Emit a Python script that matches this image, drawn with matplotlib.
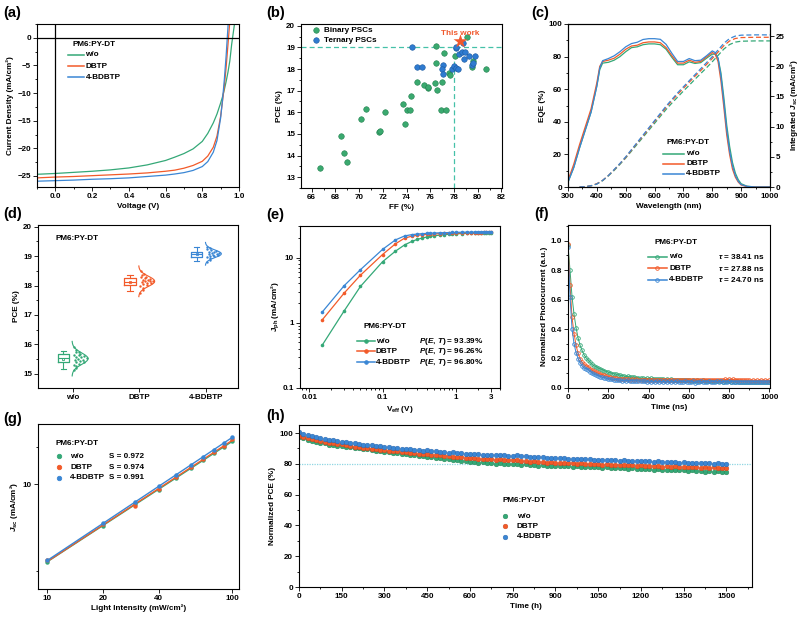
import numpy as np
import matplotlib
matplotlib.use("Agg")
import matplotlib.pyplot as plt
from matplotlib.lines import Line2D
from matplotlib.ticker import MultipleLocator, FixedLocator, FixedFormatter, NullLocator, NullFormatter

plt.rcParams["font.family"] = ["Liberation Sans", "DejaVu Sans"]
plt.rcParams["font.weight"] = "bold"
plt.rcParams["axes.labelweight"] = "bold"
plt.rcParams["mathtext.fontset"] = "custom"
plt.rcParams["mathtext.rm"] = "Liberation Sans:bold"
plt.rcParams["mathtext.it"] = "Liberation Sans:italic:bold"
plt.rcParams["mathtext.bf"] = "Liberation Sans:bold"
plt.rcParams["axes.linewidth"] = 0.8

GREEN = "#34a877"
ORANGE = "#f25a29"
BLUE = "#3a86d4"
COLORS = [GREEN, ORANGE, BLUE]
NAMES = ["w/o", "DBTP", "4-BDBTP"]

# (a) J-V
V_jv = [-0.1, 0.0, 0.1, 0.2, 0.3, 0.4, 0.5, 0.6, 0.65, 0.7, 0.75, 0.8, 0.83, 0.86,
        0.88, 0.9, 0.91, 0.92, 0.93, 0.94, 0.95, 0.96, 0.97, 0.98]
J_wo = [-24.7, -24.55, -24.35, -24.15, -23.9, -23.55, -23.0, -22.2, -21.6, -20.95, -20.1,
        -18.75, -17.3, -15.4, -13.8, -11.8, -10.7, -9.4, -7.9, -6.2, -4.2, -1.2, 1.2, 3.6]
J_dbtp = [-25.35, -25.2, -25.1, -24.95, -24.8, -24.65, -24.45, -24.15, -23.95, -23.6, -23.1,
          -22.35, -21.4, -19.8, -17.8, -14.2, -11.5, -8.8, -5.3, -1.2, 3.0, 7.0, 10.0, 13.0]
J_bdbtp = [-25.95, -25.85, -25.75, -25.6, -25.5, -25.35, -25.1, -24.85, -24.65, -24.4, -24.0,
           -23.3, -22.4, -20.7, -18.6, -14.5, -11.3, -7.6, -3.2, 2.0, 6.5, 10.0, 13.0, 16.0]

# (b) literature survey
binary_ff = [66.7, 68.5, 68.7, 69.0, 70.2, 70.6, 71.65, 71.8, 72.2, 73.7, 73.85, 74.0, 74.3,
             74.4, 74.85, 75.45, 75.8, 75.85, 76.4, 76.5, 76.5, 76.6, 76.9, 77.0, 77.2, 77.3,
             77.6, 77.7, 78.1, 79.1, 79.5, 79.6, 80.7]
binary_pce = [13.43, 14.9, 14.14, 13.71, 15.7, 16.14, 15.11, 15.15, 16.0, 16.4, 15.48, 16.11,
              16.11, 16.77, 17.4, 17.25, 17.11, 17.15, 17.34, 18.3, 19.06, 17.05, 16.1, 17.4,
              18.72, 16.1, 17.8, 17.71, 18.6, 19.5, 18.1, 18.38, 18.0]
ternary_ff = [74.5, 74.85, 75.3, 77.1, 77.0, 77.1, 77.8, 78.0, 78.15, 78.3, 78.2, 78.2, 78.4,
              78.7, 78.8, 78.97, 79.27, 79.8, 78.85, 79.56, 79.6]
ternary_pce = [19.02, 18.11, 18.11, 18.2, 17.99, 17.76, 18.02, 18.14, 18.03, 17.99, 18.97,
               19.03, 18.68, 18.77, 19.19, 18.79, 18.62, 18.62, 18.45, 18.19, 18.26]
this_ff, this_pce = 78.5, 19.3

# (c) EQE and integrated Jsc
wl = [300, 320, 340, 360, 380, 400, 410, 420, 440, 460, 480, 500, 520, 540, 560, 580, 600,
      620, 640, 660, 680, 700, 720, 740, 760, 780, 800, 810, 820, 830, 840, 850, 860, 870,
      880, 890, 900, 920, 950, 1000]
eqe_wo = [3, 12, 24, 35, 46, 62, 72, 76, 76.5, 77.8, 80, 83, 85.5, 86, 87.3, 87.8, 87.8, 87.3,
          84.5, 79.5, 75, 75, 76.8, 75.8, 76.3, 79, 81.5, 81.5, 79, 70, 55, 38, 25, 15, 8.5,
          4.5, 2, 0.5, 0, 0]
eqe_dbtp = [4, 14, 26, 37, 48, 64, 74, 77, 77.8, 79, 81.5, 84.5, 86.5, 87, 88.5, 89, 89, 88.5,
            85.5, 80.5, 76, 76, 77.8, 76.5, 77, 79.8, 82.5, 81.5, 77, 65, 49, 32, 20, 11, 6,
            3, 1.2, 0.3, 0, 0]
eqe_bdbtp = [3, 12, 24, 35, 46, 62, 73, 77.5, 78.8, 80.5, 83, 86, 88, 88.8, 90.5, 91, 91, 90.6,
             87.5, 82, 77, 77, 78.8, 77.5, 77.8, 80.5, 83.5, 82.5, 79, 68, 52, 35, 22, 13, 7,
             3.5, 1.5, 0.4, 0, 0]
wl_int = [340, 360, 380, 400, 420, 440, 460, 480, 500, 520, 540, 560, 580, 600, 620, 640, 660,
          680, 700, 720, 740, 760, 780, 800, 820, 840, 860, 880, 900, 950, 1000]
jint_wo = [0, 0.05, 0.2, 0.5, 1.05, 1.85, 2.75, 3.75, 4.8, 5.95, 7.1, 8.25, 9.4, 10.55, 11.7,
           12.85, 13.9, 14.9, 15.9, 16.85, 17.85, 18.8, 19.75, 20.75, 21.8, 22.85, 23.6, 24.0,
           24.15, 24.2, 24.2]
jint_dbtp = [0, 0.05, 0.2, 0.55, 1.1, 1.9, 2.85, 3.85, 4.9, 6.1, 7.3, 8.45, 9.65, 10.85, 12.0,
             13.2, 14.3, 15.35, 16.35, 17.35, 18.35, 19.3, 20.3, 21.3, 22.35, 23.4, 24.2, 24.6,
             24.75, 24.8, 24.8]
jint_bdbtp = [0, 0.05, 0.2, 0.5, 1.1, 1.9, 2.9, 3.9, 5.0, 6.2, 7.4, 8.6, 9.8, 11.0, 12.2, 13.4,
              14.5, 15.6, 16.6, 17.6, 18.6, 19.6, 20.6, 21.6, 22.7, 23.8, 24.6, 25.0, 25.15,
              25.2, 25.2]

# (d) PCE statistics
pce_wo = [15.12, 15.2, 15.25, 15.3, 15.33, 15.38, 15.4, 15.43, 15.45, 15.48, 15.5, 15.52,
          15.55, 15.57, 15.6, 15.62, 15.65, 15.68, 15.72, 15.75, 15.8, 15.9]
pce_dbtp = [17.75, 17.85, 17.92, 17.98, 18.02, 18.05, 18.08, 18.1, 18.12, 18.14, 18.15, 18.17,
            18.19, 18.2, 18.22, 18.25, 18.28, 18.3, 18.35, 18.4, 18.48]
pce_bdbtp = [18.8, 18.88, 18.93, 18.97, 19.0, 19.02, 19.04, 19.05, 19.07, 19.08, 19.1, 19.12,
             19.13, 19.15, 19.17, 19.2, 19.23, 19.27, 19.32]
box_stats = [
    dict(med=15.52, q1=15.38, q3=15.68, whislo=15.15, whishi=15.76, mean=15.5),
    dict(med=18.13, q1=18.02, q3=18.25, whislo=17.82, whishi=18.37, mean=18.13),
    dict(med=19.06, q1=18.98, q3=19.15, whislo=18.83, whishi=19.32, mean=19.07),
]

# (e) Jph vs Veff
veff = [0.015, 0.03, 0.05, 0.1, 0.15, 0.2, 0.25, 0.3, 0.35, 0.4, 0.45, 0.5, 0.6, 0.7, 0.8,
        0.9, 1.0, 1.2, 1.4, 1.6, 1.8, 2.0, 2.2, 2.4, 2.6, 2.8, 3.0]
jph_wo = [0.45, 1.52, 3.6, 8.6, 12.5, 15.6, 17.6, 19.0, 19.9, 20.6, 21.1, 21.5, 22.0, 22.4,
          22.7, 22.9, 23.1, 23.3, 23.5, 23.6, 23.7, 23.8, 23.9, 23.9, 24.0, 24.0, 24.1]
jph_dbtp = [1.1, 2.85, 5.35, 11.1, 16.2, 19.8, 21.2, 21.9, 22.3, 22.6, 22.8, 23.0, 23.2, 23.4,
            23.5, 23.6, 23.7, 23.8, 23.9, 24.0, 24.0, 24.1, 24.1, 24.2, 24.2, 24.3, 24.3]
jph_bdbtp = [1.45, 3.7, 6.5, 13.3, 18.6, 21.4, 22.4, 22.9, 23.2, 23.4, 23.6, 23.7, 23.9, 24.0,
             24.1, 24.2, 24.3, 24.4, 24.5, 24.5, 24.6, 24.6, 24.7, 24.7, 24.8, 24.8, 24.9]
peff = ["93.39%", "96.26%", "96.80%"]

# (f) TPC, one point every 10 ns
t_tpc = np.arange(0, 1001, 10)
tpc_wo = [0.97, 0.80, 0.62, 0.50, 0.41, 0.34, 0.29, 0.255, 0.225, 0.205,
          0.19, 0.175, 0.16, 0.15, 0.145, 0.135, 0.13, 0.125, 0.118, 0.112,
          0.107, 0.104, 0.098, 0.095, 0.093, 0.088, 0.086, 0.084, 0.08, 0.078,
          0.079, 0.074, 0.072, 0.075, 0.068, 0.07, 0.066, 0.068, 0.064, 0.066,
          0.063, 0.065, 0.061, 0.063, 0.06, 0.062, 0.058, 0.061, 0.057, 0.059,
          0.056, 0.058, 0.055, 0.057, 0.054, 0.056, 0.053, 0.055, 0.052, 0.054,
          0.052, 0.05, 0.053, 0.049, 0.052, 0.05, 0.048, 0.051, 0.049, 0.05,
          0.047, 0.05, 0.046, 0.049, 0.045, 0.048, 0.046, 0.044, 0.047, 0.045,
          0.046, 0.043, 0.046, 0.042, 0.045, 0.043, 0.041, 0.044, 0.042, 0.04,
          0.043, 0.039, 0.042, 0.038, 0.041, 0.04, 0.043, 0.04, 0.042, 0.041, 0.04]
tpc_dbtp = [0.98, 0.70, 0.48, 0.37, 0.29, 0.235, 0.20, 0.175, 0.16, 0.15,
            0.145, 0.13, 0.12, 0.113, 0.107, 0.1, 0.095, 0.09, 0.085, 0.08,
            0.076, 0.074, 0.07, 0.068, 0.066, 0.064, 0.062, 0.06, 0.062, 0.058,
            0.06, 0.057, 0.059, 0.055, 0.058, 0.054, 0.057, 0.053, 0.056, 0.054,
            0.055, 0.052, 0.056, 0.053, 0.055, 0.051, 0.054, 0.052, 0.055, 0.051,
            0.054, 0.051, 0.055, 0.052, 0.056, 0.052, 0.054, 0.051, 0.055, 0.053,
            0.055, 0.052, 0.056, 0.053, 0.055, 0.051, 0.054, 0.052, 0.056, 0.053,
            0.055, 0.052, 0.057, 0.053, 0.056, 0.052, 0.055, 0.053, 0.058, 0.055,
            0.06, 0.056, 0.058, 0.054, 0.057, 0.053, 0.056, 0.052, 0.055, 0.051,
            0.054, 0.05, 0.053, 0.049, 0.052, 0.05, 0.053, 0.049, 0.052, 0.05, 0.051]
tpc_bdbtp = [0.96, 0.62, 0.40, 0.30, 0.24, 0.2, 0.17, 0.15, 0.135, 0.13,
             0.125, 0.112, 0.1, 0.092, 0.088, 0.082, 0.078, 0.072, 0.07, 0.065,
             0.062, 0.06, 0.058, 0.055, 0.057, 0.052, 0.054, 0.05, 0.052, 0.049,
             0.051, 0.048, 0.05, 0.047, 0.049, 0.046, 0.048, 0.045, 0.047, 0.044,
             0.047, 0.044, 0.046, 0.043, 0.046, 0.042, 0.045, 0.043, 0.046, 0.042,
             0.045, 0.042, 0.046, 0.043, 0.045, 0.041, 0.044, 0.042, 0.045, 0.043,
             0.044, 0.041, 0.045, 0.035, 0.044, 0.042, 0.045, 0.041, 0.044, 0.042,
             0.045, 0.042, 0.044, 0.041, 0.045, 0.043, 0.046, 0.042, 0.044, 0.041,
             0.045, 0.042, 0.044, 0.041, 0.043, 0.04, 0.044, 0.041, 0.043, 0.04,
             0.043, 0.04, 0.044, 0.041, 0.043, 0.04, 0.042, 0.039, 0.043, 0.04, 0.042]
tau = ["38.41 ns", "27.88 ns", "24.70 ns"]

# (g) light intensity dependence
light = [10, 20, 30, 40, 50, 60, 70, 80, 90, 100]
jsc_wo = [2.39, 4.66, 6.92, 9.05, 11.3, 13.4, 15.6, 17.7, 19.8, 22.4]
jsc_dbtp = [2.44, 4.75, 6.65, 9.2, 11.5, 13.7, 15.9, 18.1, 20.3, 23.0]
jsc_bdbtp = [2.46, 4.85, 7.2, 9.6, 11.9, 14.3, 16.6, 19.0, 21.5, 24.1]
slopes = ["S = 0.972", "S = 0.974", "S = 0.991"]

# (h) stability, one point every 15 h
t_stab = np.arange(0, 1501, 15)
stab_wo = [97.4, 96.6, 95.7, 95.0, 94.4, 93.6, 93.2, 92.5, 92.2, 91.8,
           91.6, 91.0, 90.8, 90.2, 90.0, 89.4, 89.3, 88.7, 88.6, 88.0,
           87.7, 87.5, 87.0, 86.9, 86.3, 86.2, 85.7, 85.6, 85.0, 84.9,
           84.4, 84.3, 83.8, 83.7, 83.2, 83.1, 82.6, 82.5, 82.0, 81.8,
           81.2, 81.3, 80.8, 81.0, 80.4, 80.6, 80.0, 80.3, 79.8, 80.0,
           79.7, 79.9, 79.3, 79.6, 79.1, 79.3, 78.8, 79.1, 78.6, 78.9,
           78.6, 78.8, 78.3, 78.6, 78.1, 78.4, 77.9, 78.2, 77.8, 78.1,
           77.9, 77.6, 77.8, 77.3, 77.5, 77.0, 77.3, 76.9, 77.1, 76.7,
           76.8, 76.5, 76.7, 76.2, 76.5, 76.0, 76.3, 75.8, 76.1, 75.7,
           75.8, 75.4, 75.7, 75.2, 75.5, 75.0, 75.3, 74.8, 75.1, 74.6, 74.7]
stab_dbtp = [98.0, 97.2, 96.5, 95.9, 95.2, 94.7, 94.1, 93.8, 93.2, 92.9,
             92.6, 92.1, 91.8, 91.2, 91.0, 90.4, 90.3, 89.7, 89.6, 89.1,
             88.7, 88.6, 88.1, 88.0, 87.5, 87.4, 86.9, 86.9, 86.4, 86.4,
             86.1, 85.9, 85.5, 85.4, 85.0, 84.9, 84.5, 84.6, 84.1, 84.0,
             83.8, 83.7, 83.3, 83.4, 83.0, 83.1, 82.6, 82.8, 82.3, 82.5,
             82.2, 82.6, 81.8, 81.9, 81.4, 81.5, 81.1, 81.2, 80.8, 80.9,
             80.7, 80.5, 80.6, 80.2, 80.4, 80.0, 80.3, 79.9, 80.1, 79.8,
             79.7, 79.5, 79.7, 79.3, 79.5, 79.1, 79.3, 79.0, 79.2, 78.9,
             79.0, 78.6, 78.8, 78.4, 78.6, 78.2, 78.4, 78.0, 78.3, 77.9,
             77.9, 78.1, 77.7, 77.9, 77.5, 77.8, 77.4, 77.7, 77.3, 77.6, 77.5]
stab_bdbtp = [100.5, 99.6, 98.9, 98.0, 97.6, 96.8, 96.3, 95.6, 95.4, 94.7,
              94.2, 93.9, 93.3, 93.2, 92.6, 92.4, 92.0, 91.9, 91.3, 91.4,
              91.0, 90.6, 90.5, 90.0, 89.9, 89.4, 89.5, 89.0, 88.9, 88.6,
              88.7, 88.2, 88.3, 87.8, 87.7, 87.3, 87.4, 86.9, 87.0, 86.6,
              86.6, 86.2, 86.4, 85.9, 86.0, 85.6, 85.8, 85.4, 85.7, 85.2,
              85.3, 85.5, 84.8, 84.9, 84.5, 84.6, 84.1, 84.3, 83.9, 84.0,
              83.8, 83.5, 83.7, 83.2, 83.4, 82.9, 83.3, 82.8, 82.9, 82.6,
              82.7, 82.4, 82.6, 82.2, 82.5, 82.0, 82.3, 81.9, 82.1, 81.8,
              82.0, 81.6, 81.8, 81.4, 81.5, 81.1, 81.3, 80.9, 81.2, 80.8,
              81.0, 80.6, 80.8, 80.4, 80.6, 80.2, 80.4, 80.0, 80.3, 79.9, 79.8]

TICK = 5.8
LAB = 5.9

fig = plt.figure(figsize=(8, 6.17), dpi=100)


def new_axes(l, t, r, b):
    return fig.add_axes([l / 800, 1 - b / 617, (r - l) / 800, (b - t) / 617])


def style(ax):
    ax.tick_params(which="both", direction="out", labelsize=TICK, width=0.6, pad=1.5)
    ax.tick_params(which="major", length=2.8)
    ax.tick_params(which="minor", length=1.6)


def panel_label(x, y, s):
    fig.text(x / 800, 1 - y / 617, s, fontsize=10.5, weight="bold", va="center", ha="left")


def key_text(ax, x, y, s, **kw):
    ax.text(x, y, s, transform=ax.transAxes, fontsize=LAB, va="center", ha="left", **kw)


def key_handle(ax, x0, x1, y, color, marker=None, line=True, mfc=None, ms=3):
    if line:
        ax.add_artist(Line2D([x0, x1], [y, y], color=color, lw=1.1, transform=ax.transAxes))
    if marker:
        ax.add_artist(Line2D([(x0 + x1) / 2], [y], color=color, marker=marker, ms=ms,
                             mfc=mfc if mfc else color, mew=0.6, transform=ax.transAxes))


# ---------------- (a) ----------------
ax = new_axes(37, 24, 239, 187)
for j, c in zip([J_wo, J_dbtp, J_bdbtp], COLORS):
    ax.plot(V_jv, j, color=c, lw=0.9)
ax.axhline(0, color="k", lw=0.9)
ax.axvline(0, color="k", lw=0.9)
ax.set_xlim(-0.1, 1.0)
ax.set_ylim(-27, 2.5)
ax.xaxis.set_major_locator(MultipleLocator(0.2))
ax.xaxis.set_minor_locator(MultipleLocator(0.1))
ax.xaxis.set_major_formatter(plt.FormatStrFormatter("%.1f"))
ax.yaxis.set_major_locator(MultipleLocator(5))
ax.yaxis.set_minor_locator(MultipleLocator(2.5))
style(ax)
ax.set_xlabel("Voltage (V)", fontsize=LAB, labelpad=2)
ax.set_ylabel("Current Density (mA/cm²)", fontsize=LAB, labelpad=2)
key_text(ax, 0.178, 0.875, "PM6:PY-DT")
for y, n, c in zip([0.812, 0.742, 0.673], NAMES, COLORS):
    key_handle(ax, 0.153, 0.232, y, c)
    key_text(ax, 0.24, y, n)

# ---------------- (b) ----------------
ax = new_axes(301, 24, 502, 188)
ax.axhline(19, color="#45c1a8", lw=0.9, ls=(0, (4, 2.5)))
ax.vlines(78, 12.5, 19, color="#45c1a8", lw=0.9, ls=(0, (4, 2.5)))
ax.scatter(binary_ff, binary_pce, s=16, color="#3aa96f", edgecolor="#23804f", lw=0.4, zorder=3,
           label="Binary PSCs")
ax.scatter(ternary_ff, ternary_pce, s=16, color="#2f7bd0", edgecolor="#1d5aa0", lw=0.4,
           zorder=3, label="Ternary PSCs")
ax.scatter([this_ff], [this_pce], marker="*", s=110, color="#f0582c", zorder=4, lw=0)
ax.text(this_ff, 19.62, "This work", color="#f0582c", fontsize=LAB, ha="center", va="center")
ax.set_xlim(65.1, 82.05)
ax.set_ylim(12.5, 20.08)
ax.xaxis.set_major_locator(MultipleLocator(2))
ax.xaxis.set_minor_locator(MultipleLocator(1))
ax.yaxis.set_major_locator(MultipleLocator(1))
ax.yaxis.set_minor_locator(MultipleLocator(0.5))
style(ax)
ax.set_xlabel("FF (%)", fontsize=LAB, labelpad=2)
ax.set_ylabel("PCE (%)", fontsize=LAB, labelpad=2)
ax.legend(loc="upper left", bbox_to_anchor=(0.02, 1.02), frameon=False, fontsize=LAB,
          handletextpad=0.4, labelspacing=0.3, borderpad=0.2, handlelength=1.2)

# ---------------- (c) ----------------
ax = new_axes(568, 24, 770, 187)
ax2 = ax.twinx()
for e, c in zip([eqe_wo, eqe_dbtp, eqe_bdbtp], COLORS):
    ax.plot(wl, e, color=c, lw=0.9)
for j, c in zip([jint_wo, jint_dbtp, jint_bdbtp], COLORS):
    ax2.plot(wl_int, j, color=c, lw=0.9, ls=(0, (4, 2.2)))
ax.set_xlim(300, 1000)
ax.set_ylim(0, 100)
ax2.set_ylim(0, 27)
ax.xaxis.set_major_locator(MultipleLocator(100))
ax.xaxis.set_minor_locator(MultipleLocator(50))
ax.yaxis.set_major_locator(MultipleLocator(20))
ax.yaxis.set_minor_locator(MultipleLocator(10))
ax2.yaxis.set_major_locator(MultipleLocator(5))
ax2.yaxis.set_minor_locator(MultipleLocator(2.5))
style(ax)
style(ax2)
ax.set_xlabel("Wavelength (nm)", fontsize=LAB, labelpad=2)
ax.set_ylabel("EQE (%)", fontsize=LAB, labelpad=2)
ax2.set_ylabel(r"Integrated $\mathit{J}_{\mathrm{sc}}$ (mA/cm²)", fontsize=LAB, labelpad=2)
key_text(ax, 0.49, 0.276, "PM6:PY-DT")
for y, n, c in zip([0.205, 0.142, 0.08], NAMES, COLORS):
    key_handle(ax, 0.47, 0.575, y, c)
    key_text(ax, 0.585, y, n)

# ---------------- (d) ----------------
ax = new_axes(38, 225, 238, 388)
groups = [pce_wo, pce_dbtp, pce_bdbtp]
pos = [1, 2, 3]
bp = ax.bxp(box_stats, positions=[p - 0.14 for p in pos], widths=0.17, showmeans=True,
            showfliers=False, manage_ticks=False)
for i, c in enumerate(COLORS):
    for key in ["boxes", "medians", "means"]:
        bp[key][i].set_color(c)
    bp["boxes"][i].set_linewidth(0.9)
    bp["medians"][i].set_linewidth(0.8)
    bp["means"][i].set(marker="s", markersize=1.8, markerfacecolor="none", markeredgecolor=c,
                       markeredgewidth=0.6)
    for key in ["whiskers", "caps"]:
        for art in bp[key][2 * i:2 * i + 2]:
            art.set_color(c)
            art.set_linewidth(0.8)
for p, vals, c in zip(pos, groups, COLORS):
    vals = np.array(vals)
    m, s = vals.mean(), vals.std()
    base = p - 0.01
    dens = np.exp(-(vals - m) ** 2 / (2 * s ** 2))
    frac = (np.arange(len(vals)) * 0.618 + 0.2) % 1
    ax.scatter(base + 0.02 + dens * 0.2 * frac, vals, s=3, color=c, lw=0, zorder=3)
    yy = np.linspace(m - 3 * s, m + 3 * s, 120)
    ax.plot(base + 0.24 * np.exp(-(yy - m) ** 2 / (2 * s ** 2)), yy, color=c, lw=0.8)
ax.set_xlim(0.48, 3.48)
ax.set_ylim(14.51, 20.06)
ax.set_xticks(pos)
ax.set_xticklabels(NAMES)
ax.xaxis.set_minor_locator(NullLocator())
ax.yaxis.set_major_locator(MultipleLocator(1))
ax.yaxis.set_minor_locator(MultipleLocator(0.5))
style(ax)
ax.set_ylabel("PCE (%)", fontsize=LAB, labelpad=2)
key_text(ax, 0.085, 0.92, "PM6:PY-DT")

# ---------------- (e) ----------------
ax = new_axes(300, 226, 500, 388)
for j, c in zip([jph_wo, jph_dbtp, jph_bdbtp], COLORS):
    ax.plot(veff, j, color=c, lw=0.9, marker="o", ms=2.6, mew=0)
ax.set_xscale("log")
ax.set_yscale("log")
ax.set_xlim(0.0075, 4.0)
ax.set_ylim(0.1, 30.4)
ax.xaxis.set_major_locator(FixedLocator([0.01, 0.1, 1, 3]))
ax.xaxis.set_major_formatter(FixedFormatter(["0.01", "0.1", "1", "3"]))
ax.xaxis.set_minor_formatter(NullFormatter())
ax.yaxis.set_major_locator(FixedLocator([0.1, 1, 10]))
ax.yaxis.set_major_formatter(FixedFormatter(["0.1", "1", "10"]))
ax.yaxis.set_minor_formatter(NullFormatter())
style(ax)
ax.set_xlabel(r"V$_{\mathrm{eff}}$ (V)", fontsize=LAB, labelpad=2)
ax.set_ylabel(r"J$_{\mathrm{ph}}$ (mA/cm²)", fontsize=LAB, labelpad=1)
key_text(ax, 0.315, 0.378, "PM6:PY-DT")
for y, n, c, pv in zip([0.29, 0.228, 0.16], NAMES, COLORS, peff):
    key_handle(ax, 0.285, 0.375, y, c, marker="o", ms=2.6)
    key_text(ax, 0.38, y, n)
    key_text(ax, 0.595, y, r"$\mathit{P}$($\mathit{E}$, $\mathit{T}$) = " + pv)

# ---------------- (f) ----------------
ax = new_axes(568, 225, 770, 388)
for y, c in zip([tpc_wo, tpc_dbtp, tpc_bdbtp], COLORS):
    ax.plot(t_tpc, y, color=c, lw=0.7, marker="o", ms=2.6, mfc="none", mew=0.6)
ax.set_xlim(0, 1003)
ax.set_ylim(0, 1.107)
ax.xaxis.set_major_locator(MultipleLocator(200))
ax.xaxis.set_minor_locator(MultipleLocator(100))
ax.yaxis.set_major_locator(MultipleLocator(0.2))
ax.yaxis.set_minor_locator(MultipleLocator(0.1))
style(ax)
ax.set_xlabel("Time (ns)", fontsize=LAB, labelpad=2)
ax.set_ylabel("Normalized Photocurrent (a.u.)", fontsize=LAB, labelpad=2)
key_text(ax, 0.43, 0.89, "PM6:PY-DT")
for y, n, c, tv in zip([0.804, 0.736, 0.663], NAMES, COLORS, tau):
    key_handle(ax, 0.396, 0.49, y, c, marker="o", mfc="none", ms=2.6)
    key_text(ax, 0.5, y, n)
    key_text(ax, 0.745, y, r"$\mathit{\tau}$ = " + tv)

# ---------------- (g) ----------------
ax = new_axes(38, 424, 239, 589)
for j, c in zip([jsc_wo, jsc_dbtp, jsc_bdbtp], COLORS):
    coef = np.polyfit(np.log10(light), np.log10(j), 1)
    ax.plot(light, 10 ** np.polyval(coef, np.log10(light)), color=c, lw=1.0)
    ax.plot(light, j, "o", color=c, ms=3.2, mew=0)
ax.set_xscale("log")
ax.set_yscale("log")
ax.set_xlim(8.9, 109)
ax.set_ylim(1.44, 30.5)
ax.xaxis.set_major_locator(FixedLocator([10, 20, 40, 100]))
ax.xaxis.set_major_formatter(FixedFormatter(["10", "20", "40", "100"]))
ax.xaxis.set_minor_locator(NullLocator())
ax.yaxis.set_major_locator(FixedLocator([10]))
ax.yaxis.set_major_formatter(FixedFormatter(["10"]))
ax.yaxis.set_minor_locator(FixedLocator([2, 20]))
ax.yaxis.set_minor_formatter(NullFormatter())
style(ax)
ax.set_xlabel("Light Intensity (mW/cm²)", fontsize=LAB, labelpad=2)
ax.set_ylabel(r"$\mathit{J}_{\mathrm{sc}}$ (mA/cm²)", fontsize=LAB, labelpad=2)
key_text(ax, 0.085, 0.879, "PM6:PY-DT")
for y, n, c, sv in zip([0.806, 0.739, 0.673], NAMES, COLORS, slopes):
    key_handle(ax, 0.09, 0.118, y, c, marker="o", line=False, ms=3.2)
    key_text(ax, 0.16, y, n)
    key_text(ax, 0.355, y, sv)

# ---------------- (h) ----------------
ax = new_axes(299, 425, 752, 587)
ax.axhline(80, color="#8fd6e2", lw=0.9, ls=(0, (1, 1)))
for y, c, ec in zip([stab_wo, stab_dbtp, stab_bdbtp], COLORS, ["#23804f", "#c8431b", "#2863a8"]):
    ax.plot(t_stab, y, "o", color=c, ms=3.4, mec=ec, mew=0.3)
ax.set_xlim(0, 1590)
ax.set_ylim(0, 105.2)
ax.xaxis.set_major_locator(MultipleLocator(150))
ax.xaxis.set_minor_locator(MultipleLocator(75))
ax.yaxis.set_major_locator(MultipleLocator(20))
ax.yaxis.set_minor_locator(MultipleLocator(10))
style(ax)
ax.set_xlabel("Time (h)", fontsize=LAB, labelpad=2)
ax.set_ylabel("Normalized PCE (%)", fontsize=LAB, labelpad=2)
key_text(ax, 0.45, 0.537, "PM6:PY-DT")
for y, n, c, ec in zip([0.438, 0.375, 0.309], NAMES, COLORS, ["#23804f", "#c8431b", "#2863a8"]):
    ax.add_artist(Line2D([0.455], [y], marker="o", color=c, ms=3.4, mec=ec, mew=0.3,
                         transform=ax.transAxes))
    key_text(ax, 0.481, y, n)

panel_label(3, 13, "(a)")
panel_label(266, 13, "(b)")
panel_label(531, 13, "(c)")
panel_label(3, 214, "(d)")
panel_label(266, 215, "(e)")
panel_label(534, 214, "(f)")
panel_label(3, 419, "(g)")
panel_label(266, 416, "(h)")

fig.savefig("out.png", dpi=100)
